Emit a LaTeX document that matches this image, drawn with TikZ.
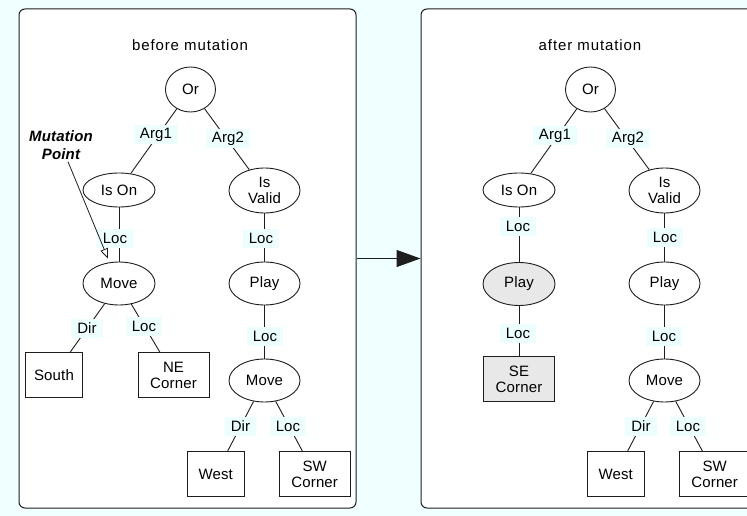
\documentclass[tikz,border=0pt]{standalone}
\usepackage{fontspec}
\setmainfont{Liberation Sans}[LetterSpace=1]
\usetikzlibrary{shapes.geometric,arrows.meta}
\definecolor{bgcyan}{RGB}{240,255,255}
\definecolor{tagcyan}{RGB}{236,254,254}
\definecolor{hilite}{RGB}{232,232,232}
\definecolor{ink}{RGB}{30,30,30}
\newfontfamily\titlefont{Liberation Sans}[LetterSpace=6]
\tikzset{
  panel/.style={draw=ink, fill=white, rounded corners=6pt, line width=1pt,
    minimum width=337pt, minimum height=499pt, inner sep=0pt},
  opnode/.style={ellipse, draw=ink, fill=white, line width=0.9pt, inner sep=0pt,
    minimum width=72pt, minimum height=43pt, align=center},
  leafbox/.style={rectangle, draw=ink, fill=white, line width=0.9pt, inner sep=0pt,
    minimum height=45pt, align=center},
  tag/.style={fill=tagcyan, inner xsep=6pt, inner ysep=0pt, minimum height=19pt},
  link/.style={draw=ink, line width=0.9pt},
  title/.style={inner sep=0pt, font=\titlefont\fontsize{15pt}{17pt}\selectfont},
}
\begin{document}
\begin{tikzpicture}[x=1pt,y=-1pt,font=\fontsize{15pt}{16pt}\selectfont]
\fill[bgcyan] (0,0) rectangle (747,516);
\useasboundingbox (0,0) rectangle (747,516);
\clip (0,0) rectangle (747,516);

% the two framed panels and the transition arrow
\node[panel] (lpanel) at (187.5,258.5) {};
\node[panel] (rpanel) at (589.5,258.5) {};
\draw[ink, line width=1pt, -{Triangle[length=24pt,width=17pt]}] (lpanel.east) -- (rpanel.west);

% ---------- tree before mutation ----------
\node[title] (ltitle) at (190,45) {before mutation};
\node[opnode, minimum width=50pt, minimum height=45pt] (lor) at (190.5,89.5) {Or};
\node[opnode, minimum height=34pt] (lison) at (119,190) {Is On};
\node[opnode, minimum width=71pt, minimum height=45pt] (lvalid) at (264.5,190.5) {Is\\Valid};
\node[opnode] (lmove) at (119,283.5) {Move};
\node[leafbox, minimum width=57pt] (lsouth) at (54,375) {South};
\node[leafbox, minimum width=71pt] (lne) at (173.5,375) {NE\\Corner};
\node[opnode, minimum width=71pt] (lplay) at (264.5,283.5) {Play};
\node[opnode, minimum width=71pt] (lmoveb) at (264.5,380.5) {Move};
\node[leafbox, minimum width=57pt] (lwest) at (215.7,474) {West};
\node[leafbox, minimum width=71pt] (lsw) at (314.7,474) {SW\\Corner};

\draw[link] (lor) -- (lison);
\draw[link] (lor) -- (lvalid);
\draw[link] (lison) -- (lmove);
\draw[link] (lmove) -- (lsouth);
\draw[link] (lmove) -- (lne);
\draw[link] (lvalid) -- (lplay);
\draw[link] (lplay) -- (lmoveb);
\draw[link] (lmoveb) -- (lwest);
\draw[link] (lmoveb) -- (lsw);

\node[tag] (la1) at (156,135) {Arg1};
\node[tag] (la2) at (228,139) {Arg2};
\node[tag] (ll1) at (115,238) {Loc};
\node[tag] (ll2) at (261,238.5) {Loc};
\node[tag] (ld1) at (87,328) {Dir};
\node[tag] (ll3) at (144,326) {Loc};
\node[tag] (ll4) at (265,336) {Loc};
\node[tag] (ld2) at (240.5,426) {Dir};
\node[tag] (ll5) at (288,426) {Loc};

% mutation point marker
\node[align=center, inner sep=0pt, font=\fontsize{15pt}{18pt}\selectfont\bfseries\itshape]
  (mut) at (61,145) {Mutation\\Point};
\draw[ink, line width=0.8pt, -{Triangle[length=10pt,width=8pt,fill=white]}]
  ([xshift=7pt,yshift=-2pt]mut.south) -- ([xshift=-11pt,yshift=3pt]lmove.north);

% ---------- tree after mutation ----------
\node[title] (rtitle) at (590,45) {after mutation};
\node[opnode, minimum width=50pt, minimum height=45pt] (ror) at (590.5,89.5) {Or};
\node[opnode, minimum height=34pt] (rison) at (519,190) {Is On};
\node[opnode, minimum width=71pt, minimum height=45pt] (rvalid) at (664.5,190.5) {Is\\Valid};
\node[opnode, fill=hilite] (rplaya) at (519,284) {Play};
\node[leafbox, fill=hilite, minimum width=71pt] (rse) at (519,379) {SE\\Corner};
\node[opnode, minimum width=71pt] (rplayb) at (664.5,283.5) {Play};
\node[opnode, minimum width=71pt] (rmove) at (664.5,380.5) {Move};
\node[leafbox, minimum width=57pt] (rwest) at (615.7,474) {West};
\node[leafbox, minimum width=71pt] (rsw) at (714.7,474) {SW\\Corner};

\draw[link] (ror) -- (rison);
\draw[link] (ror) -- (rvalid);
\draw[link] (rison) -- (rplaya);
\draw[link] (rplaya) -- (rse);
\draw[link] (rvalid) -- (rplayb);
\draw[link] (rplayb) -- (rmove);
\draw[link] (rmove) -- (rwest);
\draw[link] (rmove) -- (rsw);

\node[tag] (ra1) at (555,136) {Arg1};
\node[tag] (ra2) at (628,139) {Arg2};
\node[tag] (rl1) at (518,226) {Loc};
\node[tag] (rl2) at (665,237.5) {Loc};
\node[tag] (rl3) at (518,333) {Loc};
\node[tag] (rl4) at (664,336) {Loc};
\node[tag] (rd1) at (641,426) {Dir};
\node[tag] (rl5) at (688,426) {Loc};
\end{tikzpicture}
\end{document}
